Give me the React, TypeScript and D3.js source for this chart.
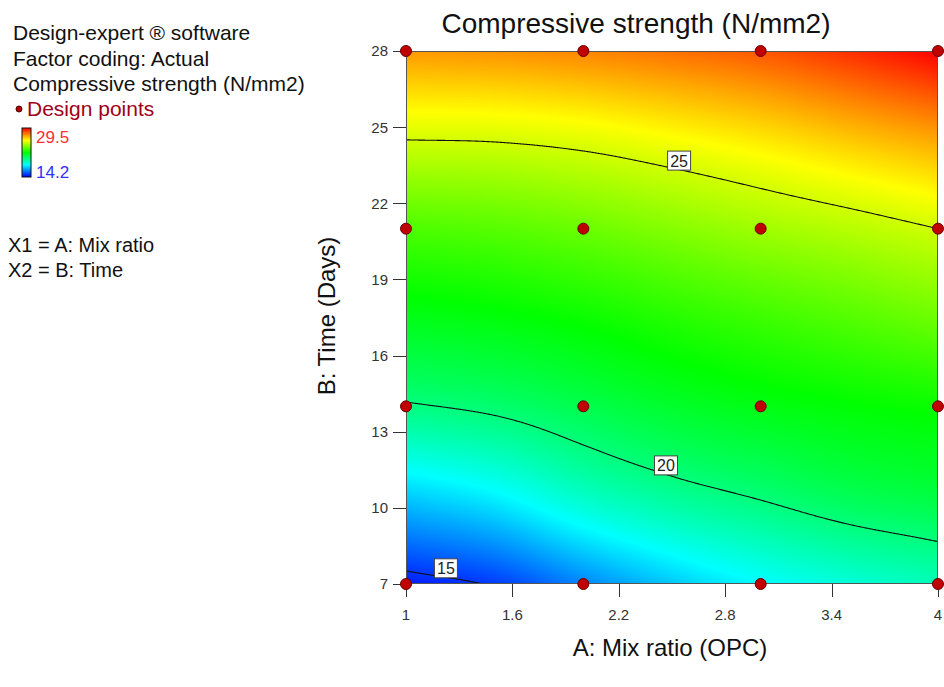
import React, { useMemo } from "react"
import * as d3 from "d3"

// grid of the response surface
const gridA = [1, 1.5, 2, 2.5, 3, 3.5, 4]
const gridB = [7, 10.5, 14, 17.5, 21, 24.5, 28]
// one row per gridB value (bottom to top)
const strength = [
  [14.6, 15.1, 16.2, 17.2, 18.0, 18.6, 19.1],
  [17.3, 17.9, 18.9, 19.6, 20.1, 20.6, 20.9],
  [19.9, 20.2, 20.7, 21.2, 21.55, 21.8, 22.0],
  [21.5, 21.7, 22.0, 22.4, 22.75, 23.1, 23.5],
  [23.0, 23.15, 23.45, 23.85, 24.25, 24.6, 25.0],
  [25.0, 25.05, 25.25, 25.6, 26.0, 26.5, 27.0],
  [27.2, 27.3, 27.5, 27.8, 28.2, 28.8, 29.5],
]

const contourLevels = [15, 20, 25]
const labelAt = [1.225, 2.466, 2.54] // A position of each contour label

const designA = [1, 2, 3, 4]
const designB = [7, 14, 21, 28]

const xTicks = [1, 1.6, 2.2, 2.8, 3.4, 4]
const yTicks = [7, 10, 13, 16, 19, 22, 25, 28]

const colorLow = 14.2
const colorHigh = 29.5

const W = 944
const H = 687
const margin = { left: 406, top: 51, right: 938, bottom: 584 }
const FONT = "'Liberation Sans', Arial, sans-serif"

// catmull-rom through the grid
function cr(p0: number, p1: number, p2: number, p3: number, t: number) {
  const t2 = t * t, t3 = t2 * t
  return 0.5 * (2 * p1 + (-p0 + p2) * t + (2 * p0 - 5 * p1 + 4 * p2 - p3) * t2 + (-p0 + 3 * p1 - 3 * p2 + p3) * t3)
}
function sample1(arr: number[], u: number) {
  const n = arr.length
  let i = Math.floor(u)
  if (i > n - 2) i = n - 2
  if (i < 0) i = 0
  const g = (k: number) => (k < 0 ? 2 * arr[0] - arr[1] : k > n - 1 ? 2 * arr[n - 1] - arr[n - 2] : arr[k])
  return cr(g(i - 1), g(i), g(i + 1), g(i + 2), u - i)
}
const aIndex = d3.scaleLinear().domain([gridA[0], gridA[gridA.length - 1]]).range([0, gridA.length - 1])
const bIndex = d3.scaleLinear().domain([gridB[0], gridB[gridB.length - 1]]).range([0, gridB.length - 1])
function valueAt(a: number, b: number) {
  const u = aIndex(a)
  const col = strength.map(row => sample1(row, u))
  return sample1(col, bIndex(b))
}

export default function App() {
  const x = d3.scaleLinear().domain([1, 4]).range([margin.left, margin.right])
  const y = d3.scaleLinear().domain([7, 28]).range([margin.bottom, margin.top])
  const span = colorHigh - colorLow
  const color = d3.scaleLinear<string>()
    .domain([0, 0.25, 0.5, 0.75, 1].map(t => colorLow + t * span))
    .range(["#0000ff", "#00ffff", "#00ff00", "#ffff00", "#ff0000"])
    .clamp(true)

  const pw = margin.right - margin.left
  const ph = margin.bottom - margin.top

  const { img, paths } = useMemo(() => {
    const values = new Float64Array(pw * ph)
    for (let j = 0; j < ph; j++) {
      const b = y.invert(margin.top + j + 0.5)
      for (let i = 0; i < pw; i++) {
        values[j * pw + i] = valueAt(x.invert(margin.left + i + 0.5), b)
      }
    }
    const canvas = document.createElement("canvas")
    canvas.width = pw
    canvas.height = ph
    const ctx = canvas.getContext("2d")!
    const data = ctx.createImageData(pw, ph)
    for (let k = 0; k < values.length; k++) {
      const c = d3.rgb(color(values[k]))
      data.data[k * 4] = c.r
      data.data[k * 4 + 1] = c.g
      data.data[k * 4 + 2] = c.b
      data.data[k * 4 + 3] = 255
    }
    ctx.putImageData(data, 0, 0)
    const contours = d3.contours().size([pw, ph]).thresholds(contourLevels)(Array.from(values))
    const path = d3.geoPath()
    return { img: canvas.toDataURL(), paths: contours.map(c => path(c) || "") }
  }, [])

  // contour label spots: find B on each level at the given A
  const labels = contourLevels.map((lv, k) => {
    const a = labelAt[k]
    let lo = 7, hi = 28
    for (let s = 0; s < 40; s++) {
      const mid = (lo + hi) / 2
      if (valueAt(a, mid) < lv) lo = mid
      else hi = mid
    }
    return { lv, cx: x(a), cy: y((lo + hi) / 2) - 9 }
  })

  const pts = designA.flatMap(a => designB.map(b => ({ a, b })))

  return (
    <svg width={W} height={H} style={{ position: "absolute", left: 0, top: 0, background: "#fff" }} fontFamily={FONT}>
      <defs>
        <clipPath id="plotclip">
          <rect x={margin.left + 1} y={margin.top + 1} width={pw - 2} height={ph - 2} />
        </clipPath>
        <linearGradient id="cbar" x1="0" y1="1" x2="0" y2="0">
          {[0, 0.25, 0.5, 0.75, 1].map(t => (
            <stop key={t} offset={t} stopColor={color(colorLow + t * span)} />
          ))}
        </linearGradient>
      </defs>

      {/* left legend */}
      <g fontSize={21} fill="#111">
        <text x={13} y={40}>Design-expert ® software</text>
        <text x={13} y={66}>Factor coding: Actual</text>
        <text x={13} y={91}>Compressive strength (N/mm2)</text>
        <text x={27} y={116} fill="#a0001a">Design points</text>
      </g>
      <circle cx={19} cy={109} r={3} fill="#b00000" stroke="#500000" />
      <rect x={22} y={128} width={9} height={49} fill="url(#cbar)" stroke="#111" />
      <text x={36} y={143} fontSize={17} fill="#ff3030">29.5</text>
      <text x={36} y={178} fontSize={17} fill="#3030ff">14.2</text>
      <g fontSize={20} fill="#111">
        <text x={8} y={252}>X1 = A: Mix ratio</text>
        <text x={8} y={277}>X2 = B: Time</text>
      </g>

      {/* title */}
      <text x={636} y={33} fontSize={28} textAnchor="middle" fill="#111">Compressive strength (N/mm2)</text>

      {/* surface */}
      <image href={img} x={margin.left} y={margin.top} width={pw} height={ph} preserveAspectRatio="none" />
      <g clipPath="url(#plotclip)">
        <g transform={`translate(${margin.left},${margin.top})`}>
          {paths.map((d, i) => (
            <path key={i} d={d} fill="none" stroke="#111" strokeWidth={1.1} />
          ))}
        </g>
      </g>
      <rect x={margin.left + 0.5} y={margin.top + 0.5} width={pw - 1} height={ph - 1} fill="none" stroke="#555" />

      {labels.map(l => (
        <g key={l.lv}>
          <rect x={l.cx - 11.5} y={l.cy - 9.5} width={23} height={19} fill="#fff" stroke="#444" />
          <text x={l.cx} y={l.cy + 6} fontSize={16} textAnchor="middle" fill="#222">{l.lv}</text>
        </g>
      ))}

      {/* axes */}
      <g stroke="#333">
        {yTicks.map(t => (
          <line key={t} x1={margin.left - 13} x2={margin.left} y1={Math.round(y(t)) + 0.5} y2={Math.round(y(t)) + 0.5} />
        ))}
        {xTicks.map(t => (
          <line key={t} x1={Math.round(x(t)) + 0.5} x2={Math.round(x(t)) + 0.5} y1={margin.bottom} y2={margin.bottom + 13} />
        ))}
      </g>
      <g fontSize={15} fill="#333">
        {yTicks.map(t => (
          <text key={t} x={margin.left - 18} y={y(t)} dy="0.36em" textAnchor="end">{t}</text>
        ))}
        {xTicks.map(t => (
          <text key={t} x={x(t)} y={620} textAnchor="middle">{t}</text>
        ))}
      </g>
      <text x={670} y={656} fontSize={24} textAnchor="middle" fill="#111">A: Mix ratio (OPC)</text>
      <text transform="translate(335,316) rotate(-90)" fontSize={24} textAnchor="middle" fill="#111">B: Time (Days)</text>

      {/* design points */}
      {pts.map((p, i) => (
        <circle key={i} cx={x(p.a)} cy={y(p.b)} r={5.5} fill="#c00000" stroke="#6a0000" />
      ))}
    </svg>
  )
}
